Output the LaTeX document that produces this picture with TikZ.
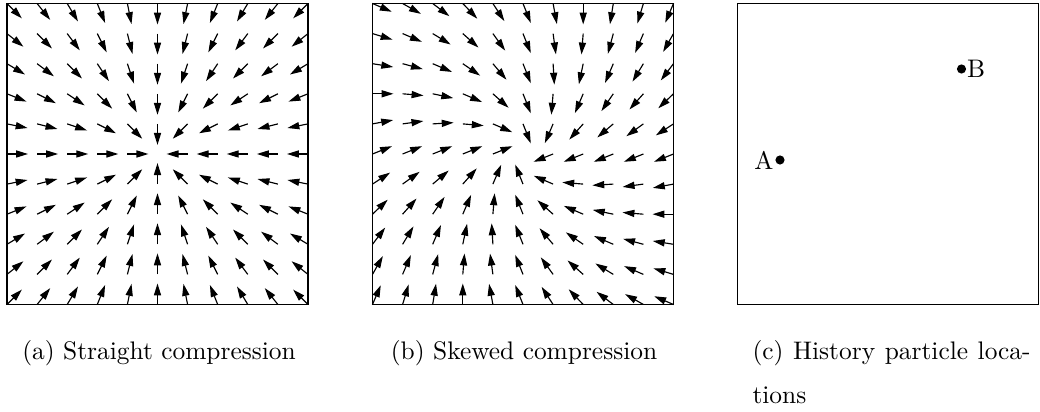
\documentclass[tikz,border=0pt]{standalone}
\usetikzlibrary{arrows.meta,positioning}

\tikzset{
  vec/.style={line width=0.45pt,-{Triangle[length=4.7pt,width=2.8pt]}},
  frame/.style={draw,line width=0.5pt,minimum size=118.5pt,inner sep=0pt},
  dot/.style={circle,fill,inner sep=0pt,minimum size=3.6pt},
  subcap/.style={inner sep=0pt,anchor=base},
}

\begin{document}
\begin{tikzpicture}[x=0.3937pt,y=0.3937pt]
  \useasboundingbox (0,0) rectangle (1040,412);

  % (a) straight compression
  \node[frame] (boxa) at (157.5,258) {};
  \foreach \i in {-5,...,5}
    \foreach \j in {-5,...,5}{
      \ifnum\numexpr\i*\i+\j*\j\relax>0
        \pgfmathsetmacro\ang{atan2(-(\j),-(\i))}
        \draw[vec] ([shift={(\i*30.1,\j*30.1)}]boxa.center) -- ++(\ang:21);
      \fi
    }
  \node[subcap] (capa) at (159,52) {(a) Straight compression};

  % (b) skewed compression
  \node[frame] (boxb) at (523,258) {};
  \foreach \i in {-5,...,5}
    \foreach \j in {-5,...,5}{
      \ifnum\numexpr\i*\i+\j*\j\relax>0
        \pgfmathsetmacro\ang{atan2(-(\j)-0.4*(\i),-(\i)+0.4*(\j))}
        \draw[vec] ([shift={(\i*30.1,\j*30.1)}]boxb.center) -- ++(\ang:21);
      \fi
    }
  \node[subcap] (capb) at (524,52) {(b) Skewed compression};

  % (c) history particles
  \node[frame] (boxc) at (888,258) {};
  \node[dot] (ptA) at (780,252) {};
  \node[inner sep=0pt,left=0.4pt of ptA] (labA) {A};
  \node[dot] (ptB) at (961.5,343) {};
  \node[inner sep=0pt,right=0pt of ptB] (labB) {B};
  \node[subcap,anchor=base west] (capc) at (752,52)
    {\makebox[109.5pt][s]{(c) History particle loca-}};
  \node[subcap,anchor=base west] (capd) at (752,8) {tions};
\end{tikzpicture}
\end{document}
